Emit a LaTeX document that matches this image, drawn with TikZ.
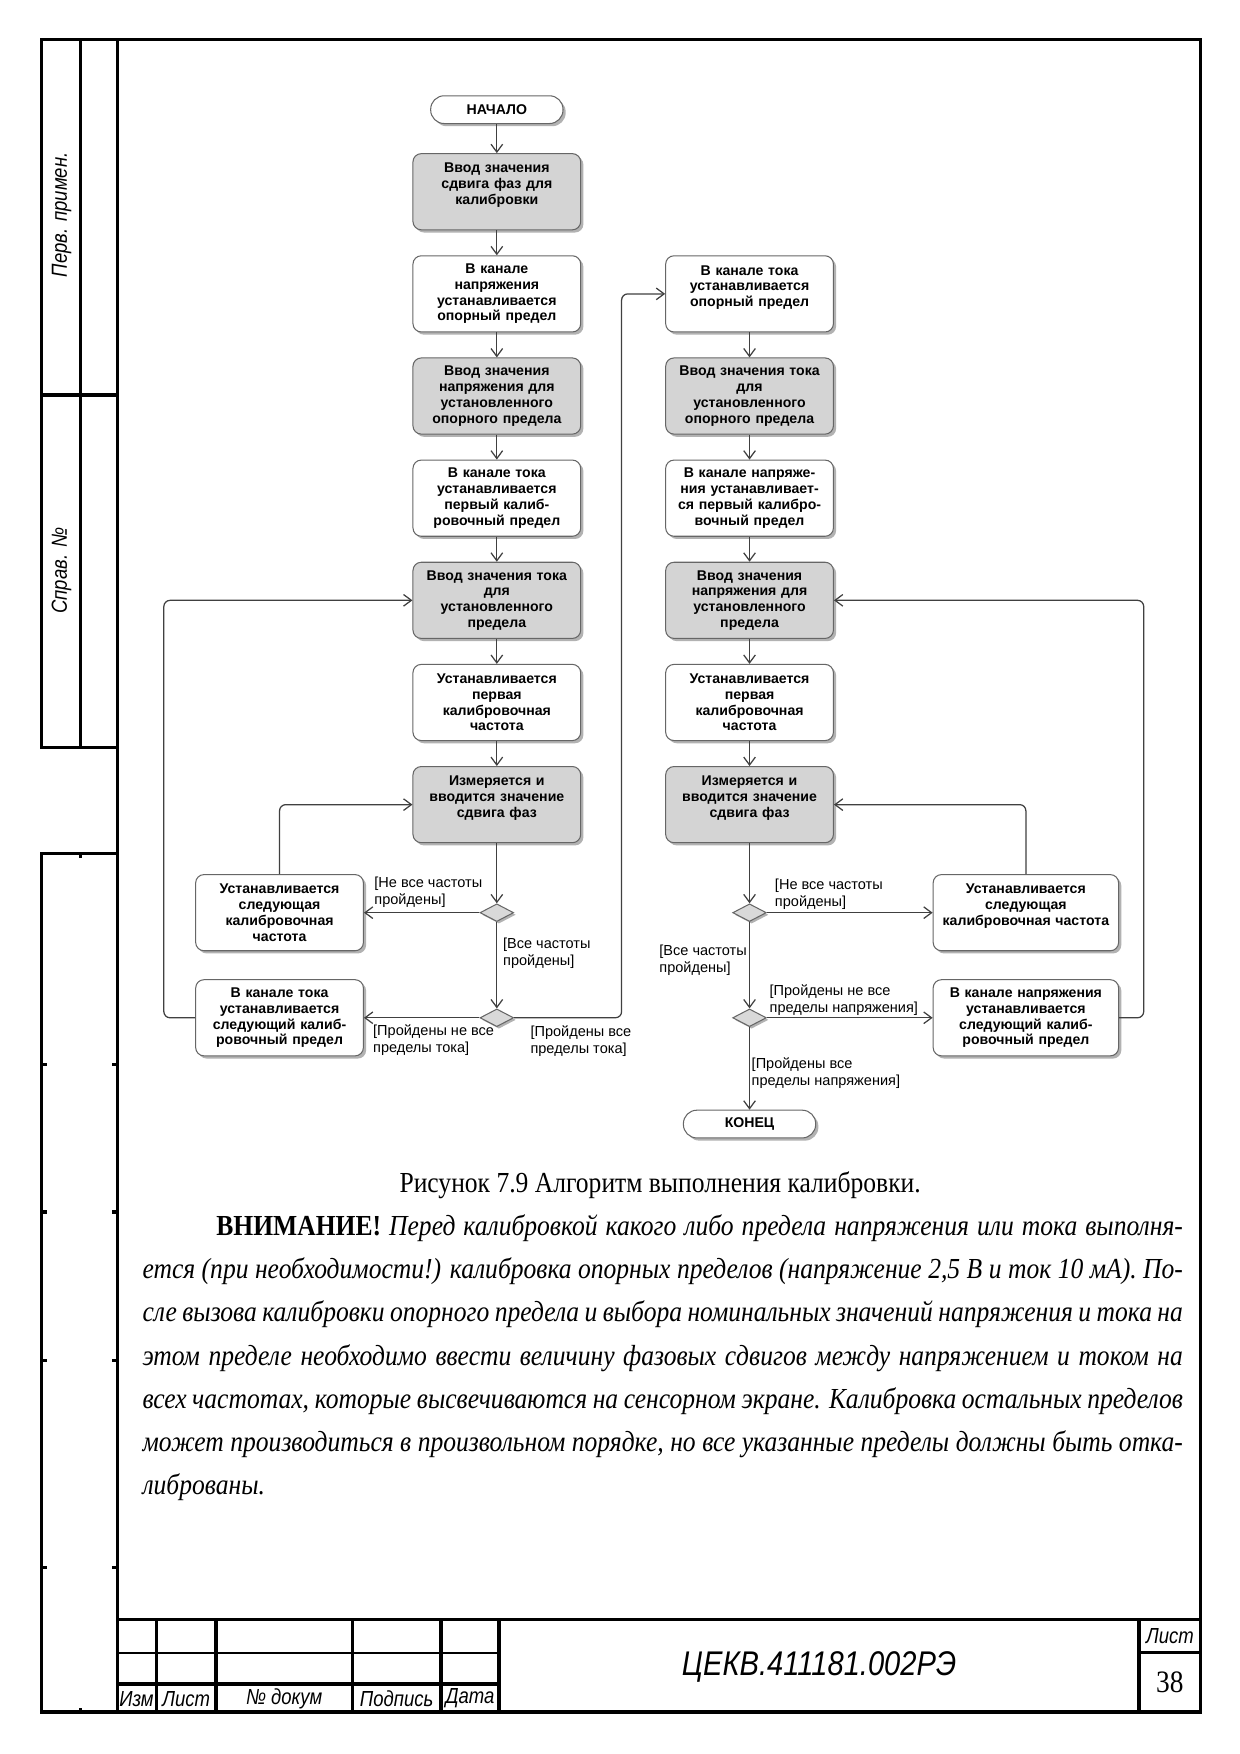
\documentclass[tikz,border=0pt]{standalone}
\usepackage{fontspec}
\setmainfont{Liberation Serif}[FakeStretch=0.88]
\newfontfamily\chartfont{Liberation Sans}
\newfontfamily\gostfont{Liberation Sans}[FakeStretch=0.85]
\usetikzlibrary{positioning,shapes.geometric,shadows,arrows.meta}

\begin{document}
\begin{tikzpicture}[x=0.01895cm, y=-0.01895cm, node distance=1.73cm, on grid,
    >={Straight Barb[length=3.8pt,width=5.6pt]}]
    \tikzset{
      box/.style={draw=black!60, line width=0.5pt, rounded corners=4pt, fill=white,
        text width=2.7cm, minimum height=1.29cm, inner sep=2pt, align=center,
        font=\chartfont\bfseries\fontsize{6.8}{7.6}\selectfont,
        drop shadow={shadow xshift=1.3pt, shadow yshift=-1.3pt, fill=black!30, opacity=1}},
      grey/.style={box, fill=black!17},
      term/.style={box, text width=2.1cm, minimum height=0.47cm, rounded corners=6.5pt},
      choice/.style={diamond, draw=black!60, line width=0.5pt, fill=black!15,
        minimum width=0.57cm, minimum height=0.3cm, inner sep=0pt,
        drop shadow={shadow xshift=1pt, shadow yshift=-1pt, fill=black!30, opacity=1}},
      lbl/.style={font=\chartfont\fontsize{7}{8}\selectfont, align=left, inner sep=0pt},
      flow/.style={->, draw=black!75, line width=0.6pt, rounded corners=3pt},
      frame/.style={line width=1.6pt},
      rule/.style={line width=0.8pt},
      gost/.style={font=\gostfont\itshape\fontsize{10.5}{12}\selectfont, inner sep=0pt}
    }
    \path[use as bounding box, fill=white] (0,0) rectangle (1108.1,1567.5);

    % page frame and side stamps
    \draw[frame] (105,35) rectangle (1073,1530);
    \draw[frame] (37,35) rectangle (105,668);
    \draw[frame] (72,35) -- (72,668);
    \draw[frame] (37,353) -- (105,353);
    \draw[frame] (37,763) rectangle (105,1530);
    \foreach \y in {951,1083,1216,1401} {
      \draw[frame] (37,\y) -- ++(5,0);
      \draw[frame] (105,\y) -- ++(-5,0);
    }
    \draw[frame] (72,763) -- ++(0,4);
    \draw[frame] (72,1530) -- ++(0,-4);
    \node[gost, rotate=90] (perv) at (55,192) {Перв. примен.};
    \node[gost, rotate=90] (sprav) at (55,510) {Справ. №};

    % title block
    \draw[frame] (105,1447) -- (1073,1447);
    \draw[frame] (1018,1447) -- (1018,1530);
    \draw[frame] (1018,1477) -- (1073,1477);
    \draw[frame] (446,1447) -- (446,1530);
    \foreach \x in {140,193,315,394}
      \draw[frame] (\x,1447) -- (\x,1530);
    \draw[rule] (105,1477) -- (446,1477);
    \draw[frame] (105,1505) -- (446,1505);
    \node[gost] (izm)   at (122,1518)   {Изм};
    \node[gost] (lst)   at (166.5,1518) {Лист};
    \node[gost] (ndoc)  at (254,1518)   {№ докум};
    \node[gost] (podp)  at (354.5,1518) {Подпись};
    \node[gost] (data)  at (420,1518)   {Дата};
    \node[gost] (sheet) at (1045.5,1462) {Лист};
    \node[gost, font=\gostfont\itshape\fontsize{16.5}{18}\selectfont] (code) at (732,1490) {ЦЕКВ.411181.002РЭ};
    \node[inner sep=0pt, font=\fontsize{15}{17}\selectfont] (sheetno) at (1045.5,1503) {38};

    % left branch: voltage reference, current ranges
    \node[term] (start) at (444,98) {НАЧАЛО};
    \node[grey] (phase)   [below=1.39cm of start] {Ввод значения\\сдвига фаз для\\калибровки\\~};
    \node[box]  (urefset) [below=of phase]   {В канале\\напряжения\\устанавливается\\опорный предел};
    \node[grey] (urefin)  [below=of urefset] {Ввод значения\\напряжения для\\установленного\\опорного предела};
    \node[box]  (irange)  [below=of urefin]  {В канале тока\\устанавливается\\первый калиб-\\ровочный предел};
    \node[grey] (iin)     [below=of irange]  {Ввод значения тока\\для\\установленного\\предела};
    \node[box]  (ifreq)   [below=of iin]     {Устанавливается\\первая\\калибровочная\\частота};
    \node[grey] (imeas)   [below=of ifreq]   {Измеряется и\\вводится значение\\сдвига фаз\\~};
    \node[choice] (ifork) [below=1.83cm of imeas] {};
    \node[choice] (ijoin) [below=1.78cm of ifork] {};
    \node[box] (inextfreq)  [left=3.68cm of ifork] {Устанавливается\\следующая\\калибровочная\\частота};
    \node[box] (inextrange) [left=3.68cm of ijoin] {В канале тока\\устанавливается\\следующий калиб-\\ровочный предел};

    % right branch: current reference, voltage ranges
    \node[box]  (irefset) [right=4.28cm of urefset] {В канале тока\\устанавливается\\опорный предел\\~};
    \node[grey] (irefin)  [below=of irefset] {Ввод значения тока\\для\\установленного\\опорного предела};
    \node[box]  (urange)  [below=of irefin]  {В канале напряже-\\ния устанавливает-\\ся первый калибро-\\вочный предел};
    \node[grey] (uin)     [below=of urange]  {Ввод значения\\напряжения для\\установленного\\предела};
    \node[box]  (ufreq)   [below=of uin]     {Устанавливается\\первая\\калибровочная\\частота};
    \node[grey] (umeas)   [below=of ufreq]   {Измеряется и\\вводится значение\\сдвига фаз\\~};
    \node[choice] (ufork) [below=1.83cm of umeas] {};
    \node[choice] (ujoin) [below=1.78cm of ufork] {};
    \node[box, text width=3.0cm] (unextfreq)  [right=4.68cm of ufork] {Устанавливается\\следующая\\калибровочная частота\\~};
    \node[box, text width=3.0cm] (unextrange) [right=4.68cm of ujoin] {В канале напряжения\\устанавливается\\следующий калиб-\\ровочный предел};
    \node[term] (stop) [below=1.80cm of ujoin] {КОНЕЦ};

    \path[flow] (start)   edge (phase)
                (phase)   edge (urefset)
                (urefset) edge (urefin)
                (urefin)  edge (irange)
                (irange)  edge (iin)
                (iin)     edge (ifreq)
                (ifreq)   edge (imeas)
                (imeas)   edge (ifork)
                (ifork)   edge (inextfreq)
                (ifork)   edge (ijoin)
                (ijoin)   edge (inextrange)
                (irefset) edge (irefin)
                (irefin)  edge (urange)
                (urange)  edge (uin)
                (uin)     edge (ufreq)
                (ufreq)   edge (umeas)
                (umeas)   edge (ufork)
                (ufork)   edge (unextfreq)
                (ufork)   edge (ujoin)
                (ujoin)   edge (unextrange)
                (ujoin)   edge (stop);
    \draw[flow] (inextfreq.north) |- (imeas.west);
    \draw[flow] (inextrange.west) -- ++(-28,0) |- (iin.west);
    \draw[flow] (ijoin.east) -- ++(96,0) |- (irefset.west);
    \draw[flow] (unextfreq.north) |- (umeas.east);
    \draw[flow] (unextrange.east) -- ++(22,0) |- (uin.east);

    % guard labels
    \node[lbl, anchor=south west] (inotfreq) at ([xshift=0.17cm, yshift=0.08cm]inextfreq.east) {[Не все частоты\\пройдены]};
    \node[lbl, anchor=north west] (iallfreq) at ([xshift=0.1cm, yshift=-0.27cm]ifork.south) {[Все частоты\\пройдены]};
    \node[lbl, anchor=north west] (inotrange) at ([xshift=0.15cm, yshift=-0.11cm]inextrange.east) {[Пройдены не все\\пределы тока]};
    \node[lbl, anchor=north west] (iallrange) at ([xshift=0.27cm, yshift=-0.13cm]ijoin.east) {[Пройдены все\\пределы тока]};
    \node[lbl, anchor=south west] (unotfreq) at ([xshift=0.13cm, yshift=0.05cm]ufork.east) {[Не все частоты\\пройдены]};
    \node[lbl, anchor=north east] (uallfreq) at ([xshift=-0.04cm, yshift=-0.38cm]ufork.south) {[Все частоты\\пройдены]};
    \node[lbl, anchor=south west] (unotrange) at ([xshift=0.04cm, yshift=0.03cm]ujoin.east) {[Пройдены не все\\пределы напряжения]};
    \node[lbl, anchor=north west] (uallrange) at ([xshift=0.03cm, yshift=-0.51cm]ujoin.south) {[Пройдены все\\пределы напряжения]};

    % caption and note
    \node[inner sep=0pt, font=\fontsize{14}{17}\selectfont] (caption) at (590,1059) {Рисунок 7.9 Алгоритм выполнения калибровки.};
    \node[anchor=north west, inner sep=0pt, text width=17.62cm, align=justify,
      font=\fontsize{14}{20.85}\selectfont] (note) at (127,1085)
      {\tolerance=9999\hspace*{1.25cm}\textbf{ВНИМАНИЕ!} \itshape Перед калибровкой какого либо предела напряжения или тока выполня-\linebreak
       ется (при необходимости!) калибровка опорных пределов (напряжение 2,5~В и ток 10~мА). По-\linebreak
       сле вызова калибровки опорного предела и выбора номинальных значений напряжения и тока на\linebreak
       этом пределе необходимо ввести величину фазовых сдвигов между напряжением и током на\linebreak
       всех частотах, которые высвечиваются на сенсорном экране. Калибровка остальных пределов\linebreak
       может производиться в произвольном порядке, но все указанные пределы должны быть отка-\linebreak
       либрованы.};
\end{tikzpicture}
\end{document}
